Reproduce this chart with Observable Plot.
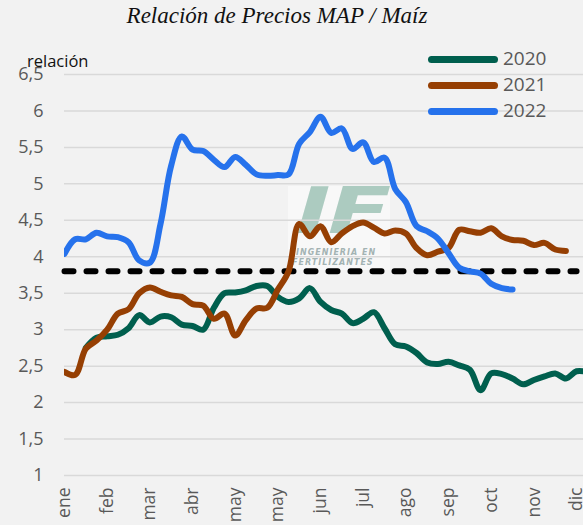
<!DOCTYPE html>
<html>
<head>
<meta charset="utf-8">
<script src="https://cdn.jsdelivr.net/npm/d3@7"></script>
<script src="https://cdn.jsdelivr.net/npm/@observablehq/plot@0.6"></script>
<style>
  html, body { margin: 0; padding: 0; background: #f2f2f2; }
  #wrap { position: relative; width: 583px; height: 525px; overflow: hidden; background: #f2f2f2; font-family: "Open Sans", sans-serif; }
  #title { position: absolute; left: 0; width: 554px; top: 3px; text-align: center; font-family: "Liberation Serif", serif; font-style: italic; font-size: 23px; color: #111; }
  #ylab { position: absolute; left: 27px; top: 49px; font-size: 16.5px; color: #111; }
  #legend { position: absolute; left: 426px; top: 46px; font-size: 19px; color: #595959; }
  .item { position: relative; height: 26px; }
  .sw { position: absolute; left: 2px; top: 10px; width: 70px; height: 7px; border-radius: 4px; }
  .lt { position: absolute; left: 77px; top: -1px; line-height: 26px; }
  #logo { position: absolute; left: 288px; top: 186px; width: 102px; height: 84px; background: rgba(255,255,255,0.45); }
  #logo .big { position: absolute; left: 8px; top: -12px; font-family: "DejaVu Sans", sans-serif; font-weight: bold; font-style: italic; font-size: 64px; color: rgba(110,165,145,0.55); letter-spacing: -2px; transform: scaleX(1.45); transform-origin: left top; }
  #logo .sm { position: absolute; left: 8px; font-family: "DejaVu Sans", sans-serif; font-weight: bold; font-style: italic; font-size: 8px; color: rgba(140,160,160,0.8); letter-spacing: 1px; }
  #chart { position: absolute; left: 0; top: 0; }
</style>
</head>
<body>
<div id="wrap">
  <div id="logo"><span class="big">IF</span><span class="sm" style="top:62px">INGENIERIA EN</span><span class="sm" style="top:72px;left:4px">FERTILIZANTES</span></div>
  <div id="chart"></div>
  <div id="title">Relación de Precios MAP / Maíz</div>
  <div id="ylab">relación</div>
  <div id="legend"></div>
</div>
<script>
// Tick labels (every 4 weeks)
const meses = ["ene","feb","mar","abr","may","may","jun","jul","ago","sep","oct","nov","dic"];
const series = ["2020","2021","2022"];
const colores = ["#005f4e","#963f03","#2672ec"];
const umbral = 3.8;
const yTicks = [1,1.5,2,2.5,3,3.5,4,4.5,5,5.5,6,6.5];

// Weekly values (week index = position in array); null = no data
const v2020 = [null,null,2.75,2.89,2.91,2.93,3.02,3.20,3.10,3.18,3.17,3.07,3.05,3.00,3.30,3.50,3.51,3.54,3.60,3.60,3.45,3.38,3.43,3.57,3.38,3.27,3.22,3.09,3.15,3.24,3.02,2.80,2.77,2.68,2.55,2.53,2.56,2.51,2.45,2.17,2.40,2.39,2.33,2.25,2.31,2.36,2.40,2.33,2.43,2.42];
const v2021 = [2.42,2.38,2.74,2.85,3.00,3.22,3.28,3.50,3.58,3.52,3.47,3.45,3.35,3.33,3.15,3.22,2.92,3.13,3.29,3.30,3.55,3.80,4.45,4.28,4.42,4.20,4.32,4.42,4.47,4.40,4.32,4.36,4.32,4.12,4.02,4.07,4.12,4.37,4.35,4.33,4.39,4.28,4.23,4.22,4.16,4.19,4.10,4.08];
const v2022 = [4.04,4.24,4.24,4.33,4.28,4.27,4.20,3.95,3.92,4.45,5.25,5.65,5.47,5.45,5.33,5.23,5.37,5.26,5.13,5.11,5.12,5.13,5.55,5.71,5.92,5.70,5.76,5.48,5.57,5.30,5.36,4.93,4.75,4.42,4.35,4.25,4.05,3.85,3.80,3.77,3.63,3.57,3.55];

const valores = [v2020, v2021, v2022];
const data = [];
valores.forEach((arr, k) => arr.forEach((v, i) => { if (v != null) data.push({semana: i, serie: series[k], valor: v}); }));

const tickIdx = meses.map((m, i) => i * 4);
const ultimo = tickIdx[tickIdx.length - 1];
const umbralData = [{semana: 0, valor: umbral}, {semana: ultimo, valor: umbral}];

const chart = Plot.plot({
  width: 583,
  height: 525,
  marginLeft: 64,
  marginRight: 0,
  marginTop: 74,
  marginBottom: 50,
  style: {background: "transparent", fontFamily: "Open Sans, sans-serif", color: "#595959", overflow: "visible"},
  x: {type: "linear", domain: [0, 48.65]},
  y: {domain: [1, 6.5]},
  color: {domain: series, range: colores},
  marks: [
    Plot.gridY(yTicks, {stroke: "#d9d9d9", strokeOpacity: 1, strokeWidth: 1.5}),
    Plot.line(umbralData, {x: "semana", y: "valor", stroke: "#000", strokeWidth: 6, strokeDasharray: "9,13", strokeLinecap: "round"}),
    Plot.line(data, {x: "semana", y: "valor", z: "serie", stroke: "serie", strokeWidth: 6, curve: "catmull-rom", clip: true, strokeLinecap: "round", strokeLinejoin: "round"}),
    Plot.axisY(yTicks, {tickSize: 0, tickPadding: 21, fontSize: 18, fill: "#595959", label: null, tickFormat: d => String(d).replace(".", ",")}),
    Plot.axisX(tickIdx, {tickSize: 0, tickPadding: 12, tickRotate: -90, fontSize: 17.5, fill: "#595959", label: null, tickFormat: i => meses[i / 4]})
  ]
});
document.getElementById("chart").appendChild(chart);

const leg = document.getElementById("legend");
series.forEach((s, k) => {
  const it = document.createElement("div");
  it.className = "item";
  it.innerHTML = `<span class="sw" style="background:${colores[k]}"></span><span class="lt">${s}</span>`;
  leg.appendChild(it);
});
</script>
</body>
</html>
